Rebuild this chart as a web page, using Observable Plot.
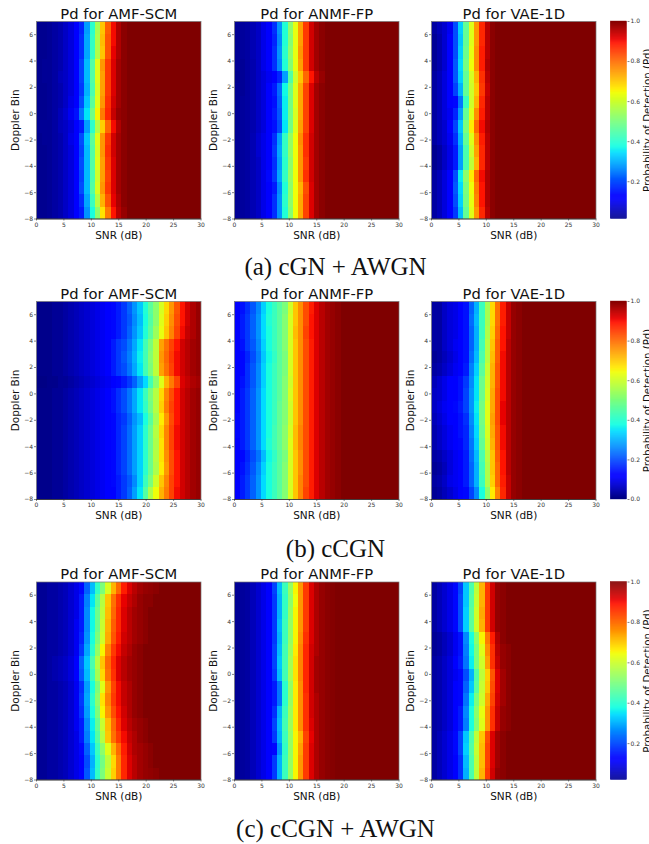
<!DOCTYPE html>
<html><head><meta charset="utf-8">
<script src="https://cdn.jsdelivr.net/npm/d3@7"></script>
<script src="https://cdn.jsdelivr.net/npm/@observablehq/plot@0.6"></script>
<style>
html,body{margin:0;padding:0;background:#fff;width:649px;height:844px;overflow:hidden}
#chart{position:relative;width:649px;height:844px;background:#fff}
#chart svg{position:absolute;background:transparent}
#chart svg image{filter:blur(.4px)}
.cap{position:absolute;left:0;width:671px;text-align:center;font-family:"Liberation Serif",serif;font-size:25px;line-height:28px;color:#111}
</style></head><body><div id="chart"></div>
<script>
// Rows run from the top of each image (Doppler 7) to the bottom (Doppler -8); columns are SNR bins.
// Values after the end of a listed row are saturated at Pd = 1.
const amfA = [
[.015,.015,.02,.03,.04,.06,.08,.11,.16,.28,.40,.55,.70,.81,.90,.96,.99],
[.015,.015,.02,.03,.04,.06,.08,.11,.17,.29,.41,.56,.71,.82,.90,.96,.99],
[.015,.015,.02,.03,.04,.06,.08,.11,.17,.29,.41,.56,.70,.82,.91,.96,.99],
[.015,.02,.02,.03,.04,.06,.08,.12,.19,.31,.45,.62,.75,.85,.92,.97,.99],
[.015,.02,.02,.03,.05,.06,.08,.12,.19,.31,.45,.62,.74,.85,.92,.97,.99],
[.015,.015,.02,.03,.04,.06,.08,.12,.18,.30,.44,.61,.74,.85,.92,.97,.99],
[.015,.015,.02,.03,.04,.06,.09,.12,.20,.32,.46,.62,.75,.86,.93,.97,.99],
[.015,.015,.02,.03,.05,.07,.10,.14,.24,.35,.49,.65,.78,.87,.94,.98,.99],
[.02,.02,.02,.03,.05,.06,.08,.11,.15,.28,.40,.56,.69,.80,.90,.96,.99],
[.015,.02,.02,.03,.04,.06,.09,.12,.20,.32,.46,.62,.75,.85,.93,.97,.99],
[.015,.015,.02,.03,.04,.06,.08,.12,.19,.31,.45,.61,.75,.86,.93,.97,.99],
[.015,.015,.02,.03,.04,.06,.08,.12,.20,.31,.45,.62,.74,.85,.92,.97,.99],
[.015,.015,.02,.03,.04,.06,.08,.12,.19,.31,.44,.60,.74,.84,.92,.97,.99],
[.015,.015,.02,.03,.04,.06,.08,.12,.20,.31,.45,.61,.75,.85,.92,.97,.99],
[.015,.015,.02,.03,.04,.06,.08,.12,.17,.29,.42,.57,.72,.82,.91,.96,.99],
[.015,.015,.02,.03,.04,.06,.08,.11,.15,.27,.38,.52,.67,.78,.89,.95,.98]];
const anmfA = [
[.02,.025,.03,.045,.06,.09,.12,.17,.27,.39,.52,.63,.74,.85,.93,.97,.99],
[.02,.025,.03,.045,.06,.09,.12,.16,.26,.39,.51,.63,.74,.85,.93,.97,.99],
[.02,.025,.03,.045,.06,.09,.12,.17,.27,.40,.52,.63,.75,.85,.93,.97,.99],
[.02,.02,.03,.04,.06,.09,.12,.17,.26,.39,.51,.63,.74,.85,.93,.97,.99],
[.015,.02,.03,.04,.06,.08,.10,.11,.16,.28,.45,.60,.70,.80,.89,.95,.98],
[.02,.02,.03,.04,.06,.08,.11,.15,.23,.37,.49,.62,.73,.84,.92,.97,.99],
[.02,.025,.03,.04,.06,.08,.11,.14,.22,.36,.49,.62,.73,.84,.92,.97,.99],
[.02,.025,.03,.04,.06,.08,.11,.15,.21,.36,.49,.61,.73,.84,.92,.97,.99],
[.02,.025,.03,.04,.06,.08,.11,.14,.20,.35,.49,.62,.74,.84,.92,.97,.99],
[.02,.025,.03,.045,.07,.09,.12,.17,.28,.41,.53,.64,.76,.86,.93,.97,.99],
[.02,.025,.03,.045,.07,.09,.12,.18,.29,.41,.53,.64,.75,.86,.93,.97,.99],
[.02,.025,.03,.045,.06,.09,.12,.17,.28,.40,.52,.64,.75,.85,.93,.97,.99],
[.02,.025,.03,.045,.06,.09,.13,.18,.29,.41,.53,.64,.75,.86,.93,.97,.99],
[.02,.025,.03,.045,.06,.09,.12,.15,.26,.39,.52,.64,.72,.83,.92,.97,.99],
[.02,.025,.03,.045,.06,.09,.12,.17,.27,.40,.52,.64,.73,.84,.92,.97,.99],
[.02,.025,.03,.045,.06,.09,.12,.17,.27,.39,.51,.64,.73,.84,.92,.97,.99]];
const vaeA = [
[.03,.05,.07,.10,.20,.33,.47,.62,.75,.87,.95,.99],
[.02,.04,.07,.11,.20,.32,.47,.62,.75,.87,.95,.99],
[.02,.04,.07,.11,.20,.33,.48,.63,.76,.88,.95,.99],
[.02,.04,.07,.11,.21,.34,.49,.64,.76,.88,.96,.99],
[.03,.05,.08,.11,.21,.33,.47,.61,.72,.86,.95,.99],
[.03,.05,.08,.11,.19,.30,.47,.60,.70,.85,.94,.99],
[.03,.05,.08,.11,.13,.24,.42,.60,.72,.87,.95,.99],
[.03,.05,.08,.10,.16,.28,.47,.62,.76,.88,.95,.99],
[.03,.05,.07,.11,.19,.32,.50,.66,.80,.90,.96,.99],
[.03,.05,.07,.10,.17,.30,.47,.62,.76,.88,.95,.99],
[.015,.03,.06,.09,.15,.28,.44,.60,.74,.87,.95,.99],
[.015,.03,.06,.09,.15,.28,.44,.58,.72,.87,.95,.99],
[.03,.05,.08,.11,.20,.36,.52,.66,.80,.90,.96,.99],
[.03,.05,.08,.11,.21,.34,.50,.64,.78,.89,.96,.99],
[.03,.05,.08,.11,.20,.33,.49,.63,.77,.89,.96,.99],
[.03,.05,.08,.11,.18,.31,.47,.62,.75,.87,.95,.99]];
const amfB = [
[.01,.01,.01,.02,.02,.03,.04,.05,.06,.07,.08,.09,.10,.11,.13,.15,.18,.22,.27,.32,.39,.46,.52,.61,.68,.75,.82,.89,.93,.96,.98],
[.01,.01,.01,.02,.02,.03,.04,.05,.06,.07,.08,.09,.10,.11,.13,.15,.18,.21,.26,.31,.38,.45,.52,.62,.69,.76,.83,.89,.93,.96,.98],
[.01,.01,.01,.02,.02,.03,.04,.05,.06,.07,.08,.09,.10,.11,.13,.15,.18,.22,.27,.32,.39,.46,.54,.63,.70,.77,.84,.90,.94,.96,.98],
[.01,.01,.01,.02,.02,.03,.04,.05,.06,.07,.08,.09,.10,.11,.15,.18,.20,.24,.29,.35,.43,.50,.58,.74,.79,.84,.89,.93,.95,.97,.98],
[.01,.01,.01,.02,.02,.03,.04,.05,.06,.07,.08,.09,.10,.11,.15,.18,.21,.25,.30,.36,.43,.51,.58,.75,.80,.85,.90,.93,.95,.97,.98],
[.01,.01,.01,.02,.02,.03,.04,.05,.06,.07,.08,.09,.10,.11,.15,.18,.20,.24,.29,.35,.43,.50,.58,.74,.79,.84,.90,.93,.95,.97,.98],
[.005,.005,.01,.01,.02,.02,.03,.04,.05,.06,.07,.08,.09,.10,.11,.13,.15,.18,.22,.28,.34,.43,.52,.62,.72,.78,.84,.92,.94,.96,.97],
[.01,.01,.01,.02,.02,.03,.04,.05,.06,.07,.08,.09,.10,.11,.14,.17,.20,.24,.29,.35,.42,.50,.57,.68,.77,.83,.89,.93,.95,.97,.98],
[.01,.01,.01,.02,.02,.03,.04,.05,.06,.07,.08,.09,.10,.11,.14,.17,.20,.24,.29,.35,.41,.49,.57,.69,.78,.84,.89,.93,.95,.97,.98],
[.01,.01,.01,.02,.02,.03,.04,.05,.06,.07,.08,.09,.10,.11,.13,.16,.18,.22,.27,.31,.38,.46,.55,.66,.75,.83,.89,.93,.95,.97,.98],
[.01,.01,.01,.02,.02,.03,.04,.05,.06,.07,.08,.09,.10,.11,.13,.16,.19,.23,.28,.33,.40,.48,.57,.68,.77,.84,.90,.93,.95,.97,.98],
[.01,.01,.01,.02,.02,.03,.04,.05,.06,.07,.08,.09,.10,.11,.13,.16,.19,.23,.28,.33,.40,.48,.56,.67,.77,.84,.90,.93,.95,.97,.98],
[.01,.01,.01,.02,.02,.03,.04,.05,.06,.07,.08,.09,.10,.11,.13,.16,.19,.23,.28,.33,.40,.48,.57,.67,.76,.83,.89,.93,.95,.97,.98],
[.01,.01,.01,.02,.02,.03,.04,.05,.06,.07,.08,.09,.10,.11,.13,.16,.19,.23,.28,.33,.40,.48,.56,.66,.75,.83,.89,.93,.95,.97,.98],
[.01,.01,.01,.02,.02,.03,.04,.05,.06,.07,.08,.09,.10,.11,.13,.15,.18,.21,.26,.33,.42,.50,.60,.70,.77,.84,.89,.93,.95,.97,.98],
[.01,.01,.01,.02,.02,.03,.04,.05,.06,.07,.08,.09,.10,.11,.12,.15,.18,.22,.28,.35,.45,.56,.64,.72,.78,.84,.90,.93,.95,.97,.98]];
const anmfB = [
[.12,.14,.17,.21,.26,.33,.38,.42,.46,.50,.60,.70,.76,.83,.88,.92,.95,.97,.98,.99],
[.12,.15,.18,.22,.27,.34,.39,.42,.46,.51,.61,.70,.76,.83,.89,.92,.95,.97,.98,.99],
[.12,.15,.18,.22,.27,.34,.38,.42,.46,.51,.61,.71,.76,.84,.89,.92,.95,.97,.98,.99],
[.12,.14,.18,.21,.26,.33,.38,.42,.46,.51,.61,.70,.76,.83,.88,.92,.95,.97,.98,.99],
[.11,.13,.16,.20,.25,.32,.37,.41,.46,.50,.61,.70,.76,.83,.88,.92,.95,.97,.98,.99],
[.12,.13,.17,.21,.26,.33,.38,.42,.46,.50,.61,.70,.76,.83,.88,.92,.95,.97,.98,.99],
[.12,.14,.17,.21,.26,.33,.38,.42,.46,.51,.60,.70,.76,.83,.88,.92,.95,.97,.98,.99],
[.12,.15,.18,.22,.27,.34,.38,.42,.46,.51,.61,.70,.76,.83,.88,.92,.95,.97,.98,.99],
[.12,.15,.18,.22,.27,.34,.38,.42,.47,.51,.60,.70,.76,.83,.88,.92,.95,.97,.98,.99],
[.13,.15,.18,.22,.27,.34,.38,.42,.47,.51,.60,.70,.76,.83,.88,.92,.95,.97,.98,.99],
[.13,.15,.18,.22,.27,.34,.38,.43,.47,.52,.61,.71,.77,.83,.88,.92,.95,.97,.98,.99],
[.12,.15,.18,.22,.27,.34,.39,.43,.47,.52,.62,.71,.77,.83,.88,.92,.95,.97,.98,.99],
[.11,.13,.16,.20,.24,.31,.37,.41,.46,.50,.61,.70,.76,.83,.88,.92,.95,.97,.98,.99],
[.12,.14,.17,.21,.26,.33,.38,.42,.46,.51,.61,.70,.76,.83,.88,.92,.95,.97,.98,.99],
[.12,.15,.18,.22,.27,.34,.38,.42,.46,.51,.61,.70,.77,.83,.88,.92,.95,.97,.98,.99],
[.12,.15,.18,.22,.27,.34,.38,.42,.46,.51,.61,.70,.77,.84,.88,.92,.95,.97,.98,.99]];
const vaeB = [
[.03,.03,.06,.08,.09,.11,.14,.22,.30,.42,.55,.68,.79,.88,.94,.98,.99],
[.03,.03,.06,.08,.09,.11,.14,.23,.31,.42,.55,.68,.79,.88,.94,.98,.99],
[.03,.03,.06,.08,.09,.11,.14,.22,.30,.42,.56,.69,.80,.89,.94,.98,.99],
[.03,.03,.06,.08,.10,.11,.14,.22,.30,.43,.57,.70,.81,.89,.95,.98,.99],
[.02,.03,.05,.07,.09,.11,.14,.23,.31,.44,.57,.71,.81,.90,.95,.98,.99],
[.03,.04,.06,.08,.10,.12,.15,.25,.33,.46,.59,.72,.82,.90,.95,.98,.99],
[.05,.07,.09,.11,.12,.14,.18,.26,.35,.48,.60,.72,.82,.90,.95,.98,.99],
[.06,.07,.09,.11,.12,.14,.19,.27,.35,.48,.61,.73,.83,.90,.95,.98,.99],
[.06,.08,.10,.11,.13,.15,.19,.27,.36,.49,.62,.73,.83,.91,.95,.98,.99],
[.05,.07,.09,.11,.12,.14,.17,.26,.35,.49,.62,.74,.83,.91,.95,.98,.99],
[.04,.06,.08,.10,.12,.14,.16,.25,.34,.48,.61,.73,.82,.90,.95,.98,.99],
[.04,.06,.08,.10,.11,.13,.16,.24,.33,.47,.60,.72,.82,.90,.95,.98,.99],
[.03,.04,.06,.08,.10,.12,.15,.23,.31,.44,.57,.70,.81,.89,.95,.98,.99],
[.02,.03,.05,.08,.10,.12,.15,.22,.30,.43,.56,.70,.80,.89,.95,.98,.99],
[.03,.04,.06,.09,.10,.12,.15,.22,.30,.42,.56,.69,.80,.88,.94,.98,.99],
[.02,.03,.05,.07,.09,.11,.13,.19,.26,.38,.52,.66,.77,.87,.94,.98,.99]];
const amfC = [
[.02,.02,.03,.03,.04,.05,.07,.09,.13,.22,.31,.41,.50,.61,.72,.80,.88,.92,.95,.97,.98,.985,.99],
[.02,.02,.03,.03,.04,.05,.07,.09,.15,.25,.35,.46,.57,.70,.79,.86,.91,.94,.96,.98,.99,.99],
[.02,.02,.03,.03,.04,.05,.07,.09,.15,.26,.37,.48,.58,.71,.80,.87,.92,.95,.97,.98,.99],
[.02,.02,.03,.03,.04,.05,.07,.10,.15,.26,.37,.48,.59,.72,.81,.87,.92,.95,.97,.98,.99],
[.02,.02,.03,.03,.04,.05,.07,.10,.16,.27,.38,.50,.60,.73,.82,.88,.93,.95,.97,.98,.99],
[.02,.02,.03,.03,.04,.05,.07,.10,.18,.29,.40,.53,.65,.77,.85,.90,.94,.96,.98,.99],
[.02,.02,.03,.04,.05,.06,.08,.12,.22,.32,.44,.57,.70,.80,.87,.92,.95,.97,.98,.99],
[.02,.02,.03,.04,.05,.06,.08,.12,.21,.31,.42,.55,.68,.79,.86,.92,.95,.97,.98,.99],
[.02,.02,.03,.03,.04,.05,.07,.10,.17,.28,.38,.50,.62,.75,.84,.90,.94,.96,.98,.99],
[.02,.02,.03,.03,.04,.05,.07,.10,.18,.29,.40,.52,.67,.77,.85,.90,.94,.96,.98,.99],
[.02,.02,.03,.03,.04,.05,.07,.10,.17,.28,.38,.50,.65,.75,.83,.89,.93,.96,.98,.99],
[.02,.02,.03,.03,.04,.05,.07,.10,.15,.26,.36,.47,.59,.71,.80,.87,.92,.95,.97,.98,.99],
[.02,.02,.03,.03,.04,.05,.07,.09,.15,.25,.35,.45,.57,.70,.79,.85,.90,.94,.96,.98,.99],
[.02,.02,.03,.03,.04,.05,.07,.09,.13,.22,.32,.42,.52,.62,.72,.80,.88,.93,.96,.97,.98,.99],
[.02,.02,.03,.03,.04,.05,.07,.09,.12,.20,.30,.40,.49,.58,.68,.78,.87,.92,.95,.97,.98,.99],
[.02,.02,.03,.03,.04,.05,.07,.09,.12,.21,.31,.41,.50,.59,.69,.78,.87,.92,.95,.97,.98,.985,.99]];
const anmfC = [
[.02,.025,.03,.05,.07,.09,.12,.19,.31,.42,.53,.65,.75,.85,.92,.96,.98,.99,.995],
[.02,.025,.03,.05,.07,.09,.12,.18,.30,.41,.52,.64,.75,.85,.92,.96,.98,.99,.995],
[.02,.025,.03,.05,.07,.09,.12,.18,.30,.41,.53,.65,.75,.85,.92,.96,.98,.99,.995],
[.02,.025,.03,.05,.07,.09,.12,.18,.31,.42,.53,.65,.75,.85,.92,.96,.98,.99,.995],
[.02,.025,.03,.05,.07,.09,.12,.18,.30,.42,.53,.65,.76,.86,.92,.96,.98,.99,.995],
[.02,.025,.03,.05,.07,.09,.12,.19,.31,.43,.54,.66,.77,.87,.93,.96,.98,.99,.995],
[.02,.025,.03,.05,.07,.09,.12,.19,.32,.43,.55,.67,.77,.87,.93,.97,.98,.99,.995],
[.02,.025,.03,.05,.07,.09,.12,.18,.31,.43,.55,.67,.77,.87,.93,.97,.98,.99,.995],
[.02,.025,.03,.05,.07,.09,.11,.15,.24,.40,.53,.66,.76,.87,.93,.97,.98,.99,.995],
[.02,.025,.03,.05,.07,.09,.11,.15,.24,.40,.53,.66,.76,.86,.93,.96,.98,.99,.995],
[.02,.025,.03,.05,.07,.09,.12,.17,.30,.42,.54,.66,.76,.86,.93,.96,.98,.99,.995],
[.02,.025,.03,.05,.07,.09,.12,.19,.31,.43,.54,.66,.76,.86,.92,.96,.98,.99,.995],
[.02,.025,.03,.05,.07,.09,.12,.18,.30,.42,.53,.65,.72,.84,.91,.96,.98,.99,.995],
[.02,.025,.03,.05,.07,.09,.11,.13,.27,.41,.53,.65,.74,.85,.92,.96,.98,.99,.995],
[.02,.025,.03,.05,.07,.09,.12,.18,.30,.42,.53,.65,.75,.85,.92,.96,.98,.99,.995],
[.02,.025,.03,.05,.07,.09,.12,.18,.30,.42,.53,.65,.75,.85,.92,.96,.98,.99,.995]];
const vaeC = [
[.03,.05,.07,.09,.13,.19,.32,.44,.58,.72,.85,.93,.98,.99],
[.03,.05,.07,.09,.13,.20,.32,.45,.59,.72,.85,.93,.98,.99],
[.03,.05,.07,.09,.13,.20,.33,.46,.60,.73,.85,.93,.98,.99],
[.03,.05,.07,.09,.13,.20,.33,.46,.60,.72,.85,.93,.98,.99],
[.02,.03,.05,.07,.10,.14,.26,.38,.52,.65,.78,.88,.96,.99],
[.02,.03,.05,.07,.10,.14,.25,.37,.50,.62,.76,.86,.95,.98,.99],
[.03,.04,.06,.08,.11,.15,.24,.36,.50,.60,.74,.86,.94,.98,.99],
[.03,.04,.06,.08,.10,.13,.20,.30,.45,.58,.69,.82,.92,.97,.99],
[.03,.04,.06,.08,.11,.13,.22,.32,.46,.59,.70,.83,.92,.97,.99],
[.03,.04,.06,.08,.11,.13,.24,.36,.50,.60,.73,.84,.93,.97,.99],
[.03,.04,.06,.08,.11,.15,.26,.38,.52,.63,.75,.86,.94,.98,.99],
[.03,.04,.06,.08,.11,.15,.25,.38,.51,.62,.75,.86,.94,.98,.99],
[.03,.05,.07,.09,.13,.19,.32,.44,.58,.70,.83,.92,.97,.99],
[.03,.05,.07,.09,.13,.19,.33,.45,.59,.71,.84,.92,.97,.99],
[.03,.05,.07,.09,.12,.17,.31,.44,.58,.71,.84,.92,.97,.99],
[.03,.05,.07,.09,.12,.17,.30,.44,.58,.72,.85,.93,.98,.99]];

const methods = ["AMF-SCM","ANMF-FP","VAE-1D"];
const captions = ["(a) cGN + AWGN","(b) cCGN","(c) cCGN + AWGN"];
const snrTicks = [0,5,10,15,20,25,30];
const dopplerTicks = [-8,-6,-4,-2,0,2,4,6];
const pdTicks = [0,.2,.4,.6,.8,1];
const pdMin = [.014,0,.02];
const jetStops = [0,.11,.125,.34,.35,.375,.64,.65,.66,.89,.91,1];
const jetColors = ["#00007f","#0000ff","#0000ff","#00dbff","#00e6f7","#14ffe2","#efff08","#f7f600","#ffec00","#ff1300","#e80000","#7f0000"];

const grids = [[amfA,anmfA,vaeA],[amfB,anmfB,vaeB],[amfC,anmfC,vaeC]];
const rowTop = [0,280,560], rowMargin = [21,21,21.5], rowInner = [197.5,198,198];
const panelLeft = [36,233.5,431], panelW = 164.5;
const capTop = [253,535,815];
const font = '"DejaVu Sans",sans-serif', tickColor = "#333";
const chart = document.getElementById("chart");
const colorOpt = {type:"linear",domain:jetStops,range:jetColors,interpolate:"rgb",clamp:true};

grids.forEach((row,ri)=>{
  row.forEach((grid,ci)=>{
    const values = grid.flatMap(r=>[...r,...Array(31-r.length).fill(1)]);
    const svg = Plot.plot({
      width:panelW+46, height:rowMargin[ri]+rowInner[ri]+32,
      marginLeft:36, marginRight:10, marginTop:rowMargin[ri], marginBottom:32,
      style:{fontFamily:font,background:"transparent",overflow:"visible"},
      x:{domain:[0,30],axis:null}, y:{domain:[-8,7],axis:null},
      color:colorOpt,
      marks:[
        Plot.raster(values,{width:31,height:16,x1:0,x2:30,y1:7,y2:-8,fill:d=>d,imageRendering:"pixelated"}),
        Plot.frame({stroke:"#777",strokeWidth:.7}),
        Plot.ruleY([-8],{stroke:"#222",strokeWidth:.7}),
        Plot.axisX(snrTicks,{anchor:"bottom",label:null,fontSize:6,tickSize:2,tickPadding:1.5,stroke:tickColor,fill:tickColor,strokeWidth:.6}),
        Plot.axisY(dopplerTicks,{anchor:"left",label:null,fontSize:6,tickSize:2,tickPadding:1.5,stroke:tickColor,fill:tickColor,strokeWidth:.6}),
        Plot.text(["Pd for "+methods[ci]],{frameAnchor:"top",lineAnchor:"bottom",dy:-3,fontSize:14.75,fill:"#111"}),
        Plot.text(["SNR (dB)"],{frameAnchor:"bottom",lineAnchor:"middle",dy:16.5,fontSize:10.5,fill:"#111"}),
        Plot.text(["Doppler Bin"],{frameAnchor:"left",textAnchor:"middle",rotate:-90,lineAnchor:"middle",dx:-21,fontSize:10.5,fill:"#111"})
      ]
    });
    svg.style.left = (panelLeft[ci]-36)+"px";
    svg.style.top = rowTop[ri]+"px";
    chart.appendChild(svg);
  });
  // colour bar
  const step = (1-pdMin[ri])/200;
  const levels = d3.range(pdMin[ri],1,step);
  const bar = Plot.plot({
    width:49, height:rowMargin[ri]+rowInner[ri]+32,
    marginLeft:10.5, marginRight:22.5, marginTop:rowMargin[ri], marginBottom:32,
    style:{fontFamily:font,background:"transparent"},
    y:{domain:[pdMin[ri],1],axis:null}, color:colorOpt,
    marks:[
      Plot.rect(levels,{y1:d=>d,y2:d=>d+step,fill:d=>d,stroke:d=>d,strokeWidth:.4}),
      Plot.axisY(pdTicks.filter(t=>t>=pdMin[ri]),{anchor:"right",label:null,fontSize:6,tickSize:2,tickPadding:1.5,stroke:tickColor,fill:tickColor,strokeWidth:.6,tickFormat:d3.format(".1f")}),
      Plot.text(["Probability of Detection (Pd)"],{frameAnchor:"right",textAnchor:"middle",rotate:-90,lineAnchor:"bottom",dx:23.5,fontSize:10.2,fill:"#111"})
    ]
  });
  bar.style.left = "600px";
  bar.style.top = rowTop[ri]+"px";
  chart.appendChild(bar);
  const cap = document.createElement("div");
  cap.className = "cap"; cap.textContent = captions[ri];
  cap.style.top = capTop[ri]+"px";
  chart.appendChild(cap);
});
</script></body></html>
